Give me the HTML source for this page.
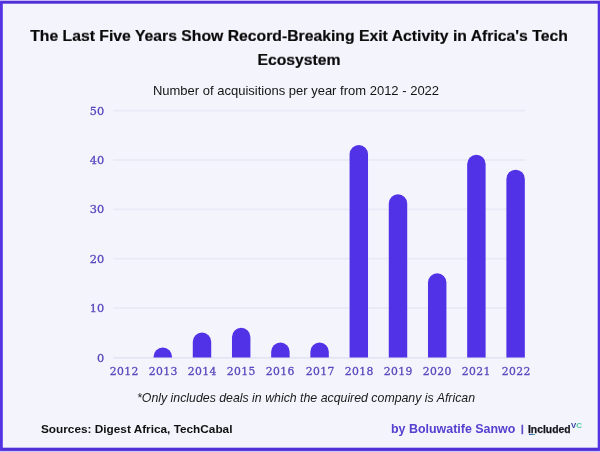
<!DOCTYPE html>
<html lang="en">
<head>
<meta charset="utf-8">
<title>Exit Activity in Africa's Tech Ecosystem</title>
<style>
  html, body { margin: 0; padding: 0; }
  body { width: 600px; height: 452px; overflow: hidden; background: #f4f4fc; position: relative;
         font-family: "Liberation Sans", Arial, Helvetica, sans-serif; }
  .t { position: absolute; white-space: nowrap; line-height: 1; will-change: transform; }
  .title { left: -1.1px; width: 600px; transform: scaleY(0.925); transform-origin: 50% 85%; text-align: center; font-weight: bold; font-size: 15.75px; color: #0a0a0a; -webkit-text-stroke: 0.2px #0a0a0a; }
  .sub { left: -4.2px; width: 600px; text-align: center; font-size: 13px; color: #141414; }
  .ylab { font-family: "DejaVu Serif", "Liberation Serif", serif; font-weight: normal; font-size: 11.3px; letter-spacing: 0.2px; -webkit-text-stroke: 0.3px #5a47bd; color: #5a47bd; text-align: right; width: 30.5px; }
  .xlab { font-family: "DejaVu Serif", "Liberation Serif", serif; font-weight: normal; font-size: 10.8px; letter-spacing: 0.4px; text-indent: 0.4px; -webkit-text-stroke: 0.3px #5a47bd; color: #5a47bd; text-align: center; width: 40px; }
</style>
</head>
<body>

<div class="t title" style="top:27.5px;">The Last Five Years Show Record-Breaking Exit Activity in Africa's Tech</div>
<div class="t title" style="top:51.8px;">Ecosystem</div>
<div class="t sub" style="top:83.6px;">Number of acquisitions per year from 2012 - 2022</div>

<svg class="chart" width="600" height="452" viewBox="0 0 600 452" style="position:absolute;left:0;top:0;">
  <rect x="0" y="0" width="600" height="3.7" fill="#4e30d6"/>
  <rect x="0" y="447.7" width="600" height="4.3" fill="#4e30d6"/>
  <rect x="0" y="0" width="2.8" height="452" fill="#5333e2"/>
  <rect x="597.7" y="0" width="2.3" height="452" fill="#5333e2"/>
  <rect x="0" y="0" width="600" height="0.9" fill="#d2c3fc"/>
  <rect x="0" y="450.9" width="600" height="1.1" fill="#d2c3fc"/>
  <rect x="113.2" y="109.70" width="412" height="1.8" fill="#eaeaf6"/>
  <rect x="113.2" y="159.10" width="412" height="1.8" fill="#eaeaf6"/>
  <rect x="113.2" y="208.50" width="412" height="1.8" fill="#eaeaf6"/>
  <rect x="113.2" y="257.80" width="412" height="1.8" fill="#eaeaf6"/>
  <rect x="113.2" y="307.20" width="412" height="1.8" fill="#eaeaf6"/>
  <rect x="113.2" y="357.3" width="412" height="1.1" fill="#dcdcef"/>
  <path d="M153.58 357.40 V356.65 A9.22 9.22 0 0 1 172.03 356.65 V357.40 Z" fill="#5232e6"/>
  <path d="M192.78 357.40 V341.83 A9.22 9.22 0 0 1 211.22 341.83 V357.40 Z" fill="#5232e6"/>
  <path d="M231.97 357.40 V336.90 A9.22 9.22 0 0 1 250.42 336.90 V357.40 Z" fill="#5232e6"/>
  <path d="M271.17 357.40 V351.71 A9.22 9.22 0 0 1 289.62 351.71 V357.40 Z" fill="#5232e6"/>
  <path d="M310.38 357.40 V351.71 A9.22 9.22 0 0 1 328.82 351.71 V357.40 Z" fill="#5232e6"/>
  <path d="M349.57 357.40 V154.19 A9.22 9.22 0 0 1 368.02 154.19 V357.40 Z" fill="#5232e6"/>
  <path d="M388.77 357.40 V203.57 A9.22 9.22 0 0 1 407.22 203.57 V357.40 Z" fill="#5232e6"/>
  <path d="M427.98 357.40 V282.58 A9.22 9.22 0 0 1 446.43 282.58 V357.40 Z" fill="#5232e6"/>
  <path d="M467.17 357.40 V164.07 A9.22 9.22 0 0 1 485.62 164.07 V357.40 Z" fill="#5232e6"/>
  <path d="M506.38 357.40 V178.88 A9.22 9.22 0 0 1 524.83 178.88 V357.40 Z" fill="#5232e6"/>
</svg>

<div class="t ylab" style="left:74px;top:105.6px;">50</div>
<div class="t ylab" style="left:74px;top:155.0px;">40</div>
<div class="t ylab" style="left:74px;top:204.4px;">30</div>
<div class="t ylab" style="left:74px;top:253.7px;">20</div>
<div class="t ylab" style="left:74px;top:303.1px;">10</div>
<div class="t ylab" style="left:74px;top:352.5px;">0</div>


<div class="t xlab" style="left:103.5px;top:366.6px;">2012</div>
<div class="t xlab" style="left:142.7px;top:366.6px;">2013</div>
<div class="t xlab" style="left:181.9px;top:366.6px;">2014</div>
<div class="t xlab" style="left:221.1px;top:366.6px;">2015</div>
<div class="t xlab" style="left:260.3px;top:366.6px;">2016</div>
<div class="t xlab" style="left:299.5px;top:366.6px;">2017</div>
<div class="t xlab" style="left:338.7px;top:366.6px;">2018</div>
<div class="t xlab" style="left:377.9px;top:366.6px;">2019</div>
<div class="t xlab" style="left:417.1px;top:366.6px;">2020</div>
<div class="t xlab" style="left:456.3px;top:366.6px;">2021</div>
<div class="t xlab" style="left:495.5px;top:366.6px;">2022</div>

<div class="t" style="left:137.3px;top:392px;font-style:italic;font-size:12.34px;color:#1a1a1a;">*Only includes deals in which the acquired company is African</div>
<div class="t" style="left:41px;top:423.5px;font-weight:bold;font-size:11.8px;color:#111;">Sources: Digest Africa, TechCabal</div>
<div class="t" style="left:391.1px;top:422.9px;font-weight:bold;font-size:12.45px;color:#5540d0;">by Boluwatife Sanwo</div>
<div class="t" style="left:520.8px;top:423.6px;font-weight:bold;font-size:9.7px;color:#5a48c8;-webkit-text-stroke:0.3px #5a48c8;">|</div>
<div class="t" style="left:528.2px;top:424.7px;font-weight:bold;font-size:10.35px;color:#15151c;-webkit-text-stroke:0.25px #15151c;">Included</div>
<div class="t" style="left:571.2px;top:422.1px;font-weight:bold;font-size:7.8px;color:#2a3a9c;">V<span style="color:#4fc79a;">C</span></div>
<div style="position:absolute;left:528.6px;top:433.9px;width:6.6px;height:1.3px;background:linear-gradient(90deg,#3346d6,#35b890);"></div>
</body>
</html>
